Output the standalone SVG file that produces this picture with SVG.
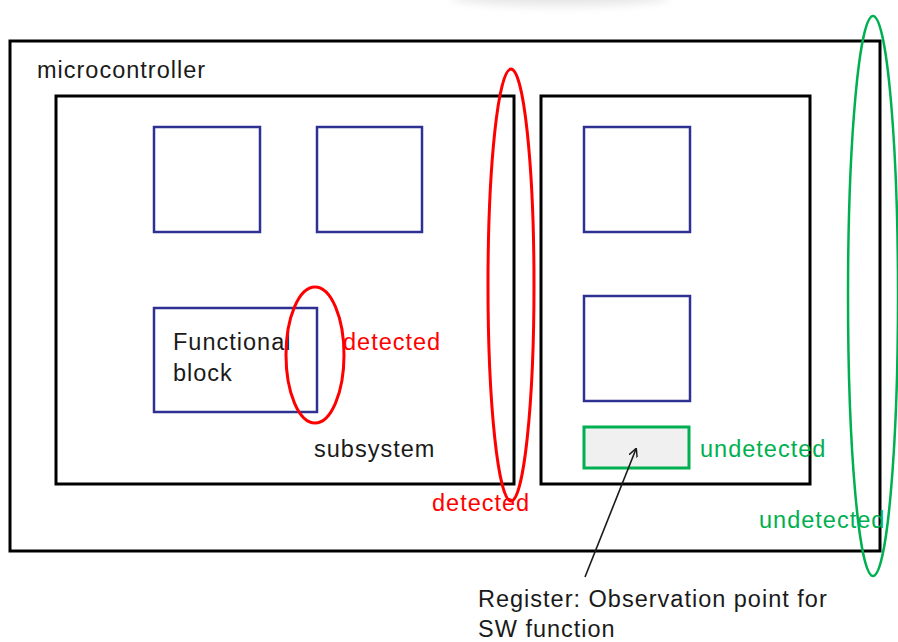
<svg xmlns="http://www.w3.org/2000/svg" width="898" height="642" viewBox="0 0 898 642">
  <style>
    .frame { fill: #ffffff; stroke: #000000; stroke-width: 3; }
    .block { fill: #ffffff; stroke: #2e3192; stroke-width: 2.5; }
    .reg { fill: #f0f0f0; stroke: #00b050; stroke-width: 3; }
    .ring-red { fill: none; stroke: #ff0000; stroke-width: 3; }
    .ring-green { fill: none; stroke: #00b050; stroke-width: 2.5; }
    text { font-family: "Liberation Sans", Arial, sans-serif; font-size: 23.5px; letter-spacing: 1px; }
    .dark { fill: #1a1a1a; }
    .red { fill: #ff0000; }
    .green { fill: #00b050; }
  </style>
  <defs>
    <filter id="soft" x="-50%" y="-200%" width="200%" height="500%">
      <feGaussianBlur stdDeviation="5"/>
    </filter>
    <marker id="tip" viewBox="0 0 10 10" refX="9" refY="5" markerWidth="9" markerHeight="9" orient="auto" markerUnits="userSpaceOnUse">
      <path d="M0,0 L10,5 L0,10" fill="none" stroke="#1a1a1a" stroke-width="1.6"/>
    </marker>
  </defs>

  <rect width="898" height="642" fill="#ffffff"/>
  <!-- soft shadow at the top edge -->
  <ellipse cx="560" cy="-4" rx="110" ry="10" fill="#e6e6e6" filter="url(#soft)"/>

  <g id="microcontroller">
    <rect class="frame" x="10" y="41" width="870" height="510"/>
    <text class="dark" x="37" y="78">microcontroller</text>
  </g>

  <g id="subsystem">
    <rect class="frame" x="56" y="96" width="458" height="388"/>
    <text class="dark" x="314" y="457">subsystem</text>
  </g>

  <g id="subsystem2">
    <rect class="frame" x="541" y="96" width="269" height="388"/>
  </g>

  <g id="block1"><rect class="block" x="154" y="127" width="106" height="105"/></g>
  <g id="block2"><rect class="block" x="317" y="127" width="105" height="105"/></g>
  <g id="functional-block">
    <rect class="block" x="154" y="308" width="163" height="104"/>
    <text class="dark" x="173" y="350">Functional</text>
    <text class="dark" x="173" y="381">block</text>
  </g>
  <g id="block3"><rect class="block" x="584" y="127" width="106" height="105"/></g>
  <g id="block4"><rect class="block" x="584" y="296" width="106" height="105"/></g>

  <g id="register">
    <rect class="reg" x="584" y="427" width="105" height="41"/>
    <text class="green" x="700" y="457">undetected</text>
  </g>

  <g id="detect-block">
    <ellipse class="ring-red" cx="315" cy="355" rx="29" ry="68"/>
    <text class="red" x="343" y="350">detected</text>
  </g>

  <g id="detect-subsystem">
    <ellipse class="ring-red" cx="511" cy="285" rx="23" ry="216"/>
    <text class="red" x="432" y="511">detected</text>
  </g>

  <g id="undetect-mcu">
    <ellipse class="ring-green" cx="873" cy="296" rx="25" ry="280"/>
    <text class="green" x="759" y="528">undetected</text>
  </g>

  <g id="connectors">
    <line x1="585" y1="577" x2="636" y2="449" stroke="#1a1a1a" stroke-width="1.6" marker-end="url(#tip)"/>
  </g>

  <g id="register-note">
    <text class="dark" x="478" y="607">Register: Observation point for</text>
    <text class="dark" x="478" y="637">SW function</text>
  </g>
</svg>
